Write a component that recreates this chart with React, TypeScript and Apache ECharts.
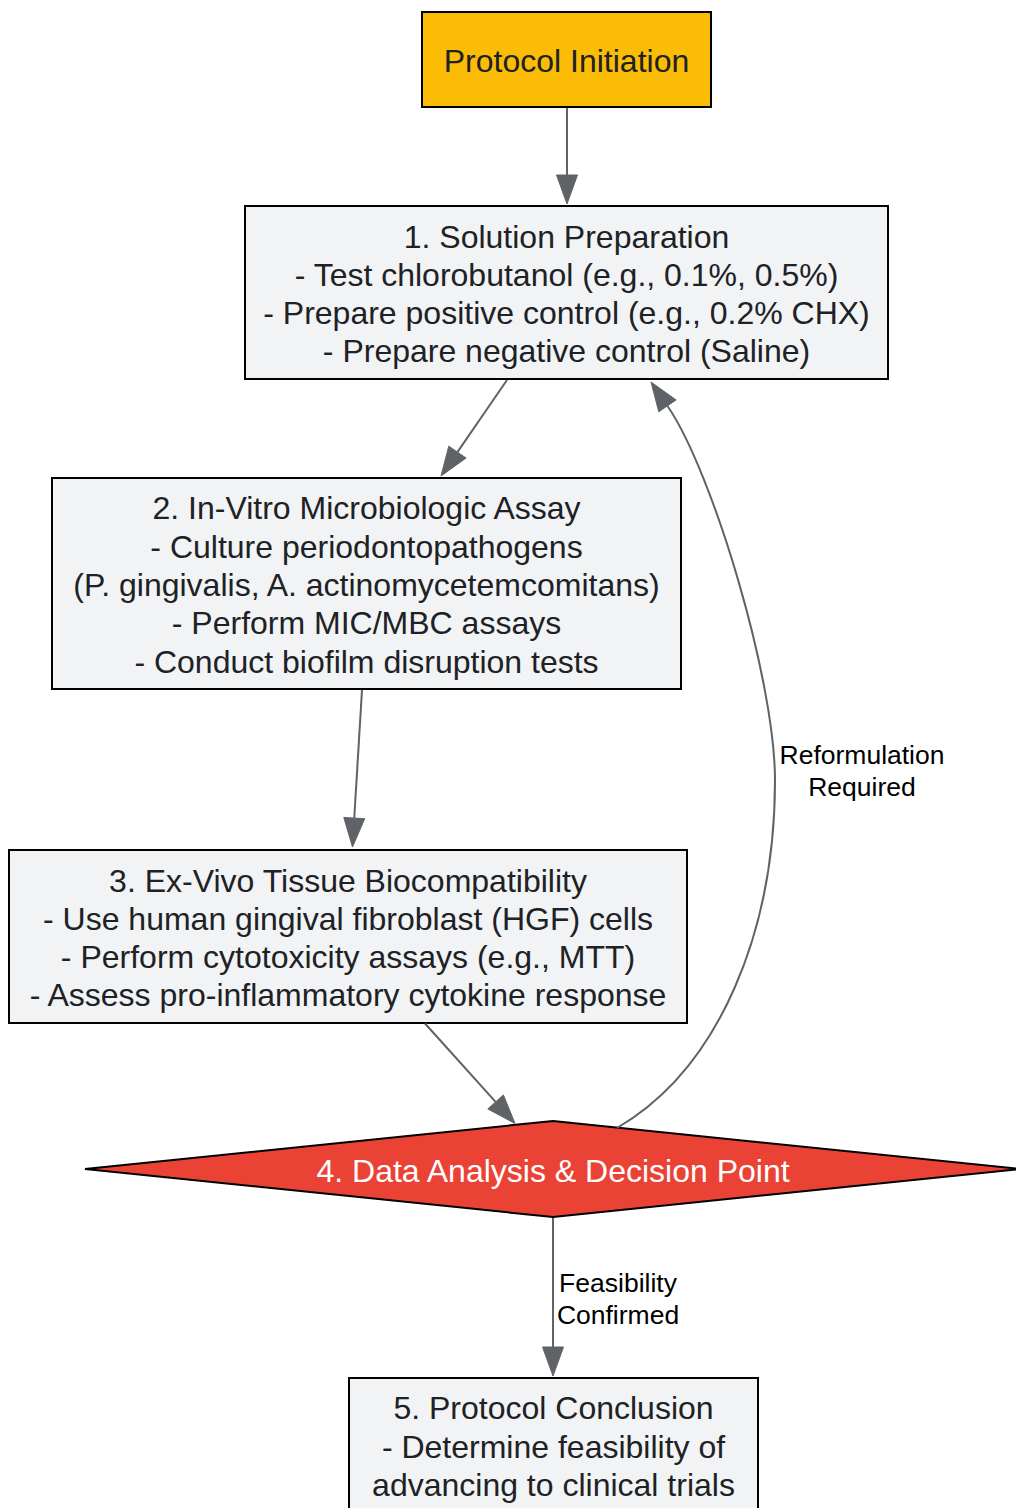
import React, { useEffect, useRef } from "react";
import * as echarts from "echarts";

// ---- data ----
const NODE_LINES: string[][] = [
  ["Protocol Initiation"],
  [
    "1. Solution Preparation",
    "- Test chlorobutanol (e.g., 0.1%, 0.5%)",
    "- Prepare positive control (e.g., 0.2% CHX)",
    "- Prepare negative control (Saline)",
  ],
  [
    "2. In-Vitro Microbiologic Assay",
    "- Culture periodontopathogens",
    "(P. gingivalis, A. actinomycetemcomitans)",
    "- Perform MIC/MBC assays",
    "- Conduct biofilm disruption tests",
  ],
  [
    "3. Ex-Vivo Tissue Biocompatibility",
    "- Use human gingival fibroblast (HGF) cells",
    "- Perform cytotoxicity assays (e.g., MTT)",
    "- Assess pro-inflammatory cytokine response",
  ],
  ["4. Data Analysis & Decision Point"],
  [
    "5. Protocol Conclusion",
    "- Determine feasibility of",
    "advancing to clinical trials",
  ],
];

const EDGE_LIST: [number, number][] = [
  [0, 1],
  [1, 2],
  [2, 3],
  [3, 4],
  [4, 1],
  [4, 5],
];
const EDGE_LABELS: string[][] = [
  [],
  [],
  [],
  [],
  ["Reformulation", "Required"],
  ["Feasibility", "Confirmed"],
];

// ---- layout (positions / sizes / styles) ----
type Box = { shape: "rect" | "diamond"; cx: number; cy: number; w: number; h: number; fill: string; color: string };
const NODE_LAYOUT: Box[] = [
  { shape: "rect", cx: 566.5, cy: 59.5, w: 289, h: 95, fill: "#FBBC05", color: "#202124" },
  { shape: "rect", cx: 566.5, cy: 292.5, w: 643, h: 173, fill: "#F1F3F4", color: "#202124" },
  { shape: "rect", cx: 366.5, cy: 583.5, w: 629, h: 211, fill: "#F1F3F4", color: "#202124" },
  { shape: "rect", cx: 348, cy: 936.5, w: 678, h: 173, fill: "#F1F3F4", color: "#202124" },
  { shape: "diamond", cx: 553, cy: 1169, w: 936, h: 96, fill: "#EA4335", color: "#FFFFFF" },
  { shape: "rect", cx: 553.5, cy: 1445, w: 409, h: 134, fill: "#F1F3F4", color: "#202124" },
];
const TEXT_DY = 1.5;

type Route = { pts?: number[][]; curve?: number[][]; tip?: number[]; label?: number[] };
const EDGE_ROUTES: Route[] = [
  { pts: [[567, 108], [567, 204]] },
  { pts: [[507, 380], [441, 476]] },
  { pts: [[362, 690], [352.5, 847]] },
  { pts: [[425, 1023.5], [515, 1123.5]] },
  {
    curve: [[617, 1128], [720, 1068], [775, 930], [775, 780], [775, 680], [712.6, 471.6], [667.5, 406]],
    tip: [651, 382],
    label: [862, 755],
  },
  { pts: [[553, 1218], [553, 1376]], label: [618, 1283] },
];

const FONT = "'Liberation Sans', Arial, Helvetica, sans-serif";
const NODE_FONT = 32;
const NODE_LH = 38.3;
const EDGE_FONT = 26.5;
const EDGE_LH = 32;
const EDGE_COLOR = "#5F6368";
const ARROW_LEN = 29;
const ARROW_HW = 10.5;

function arrowHead(tip: number[], from: number[]) {
  const dx = tip[0] - from[0];
  const dy = tip[1] - from[1];
  const len = Math.sqrt(dx * dx + dy * dy);
  const ux = dx / len;
  const uy = dy / len;
  const bx = tip[0] - ux * ARROW_LEN;
  const by = tip[1] - uy * ARROW_LEN;
  const nx = -uy;
  const ny = ux;
  return {
    base: [bx, by],
    points: [
      [tip[0], tip[1]],
      [bx + nx * ARROW_HW, by + ny * ARROW_HW],
      [bx - nx * ARROW_HW, by - ny * ARROW_HW],
    ],
  };
}

function buildGraphic() {
  const els: any[] = [];
  // nodes
  NODE_LAYOUT.forEach((b, i) => {
    if (b.shape === "rect") {
      els.push({
        type: "rect",
        shape: { x: b.cx - b.w / 2, y: b.cy - b.h / 2, width: b.w, height: b.h },
        style: { fill: b.fill, stroke: "#000000", lineWidth: 2 },
        z: 1,
      });
    } else {
      els.push({
        type: "polygon",
        shape: {
          points: [
            [b.cx, b.cy - b.h / 2],
            [b.cx + b.w / 2, b.cy],
            [b.cx, b.cy + b.h / 2],
            [b.cx - b.w / 2, b.cy],
          ],
        },
        style: { fill: b.fill, stroke: "#000000", lineWidth: 2 },
        z: 1,
      });
    }
    const lines = NODE_LINES[i];
    lines.forEach((t, k) => {
      els.push({
        type: "text",
        x: b.cx,
        y: b.cy + TEXT_DY + (k - (lines.length - 1) / 2) * NODE_LH,
        style: {
          text: t,
          fill: b.color,
          fontSize: NODE_FONT,
          fontFamily: FONT,
          align: "center",
          verticalAlign: "middle",
        },
        z: 3,
      });
    });
  });

  // edges
  EDGE_LIST.forEach((e, i) => {
    const r = EDGE_ROUTES[i];
    if (r.pts) {
      const [s, t] = r.pts;
      const ah = arrowHead(t, s);
      els.push({
        type: "line",
        shape: { x1: s[0], y1: s[1], x2: ah.base[0], y2: ah.base[1] },
        style: { stroke: EDGE_COLOR, lineWidth: 2 },
        z: 2,
      });
      els.push({ type: "polygon", shape: { points: ah.points }, style: { fill: EDGE_COLOR, stroke: EDGE_COLOR, lineWidth: 1 }, z: 2 });
    } else if (r.curve && r.tip) {
      const c = r.curve;
      for (let k = 0; k + 3 < c.length; k += 3) {
        els.push({
          type: "bezierCurve",
          shape: {
            x1: c[k][0], y1: c[k][1],
            cpx1: c[k + 1][0], cpy1: c[k + 1][1],
            cpx2: c[k + 2][0], cpy2: c[k + 2][1],
            x2: c[k + 3][0], y2: c[k + 3][1],
          },
          style: { stroke: EDGE_COLOR, lineWidth: 2, fill: null },
          z: 2,
        });
      }
      const last = c[c.length - 1];
      const dx = r.tip[0] - last[0];
      const dy = r.tip[1] - last[1];
      const l = Math.sqrt(dx * dx + dy * dy);
      const ah = arrowHead(r.tip, [r.tip[0] - dx / l, r.tip[1] - dy / l]);
      els.push({ type: "polygon", shape: { points: ah.points }, style: { fill: EDGE_COLOR, stroke: EDGE_COLOR, lineWidth: 1 }, z: 2 });
    }
    const lab = EDGE_LABELS[i];
    if (lab.length && r.label) {
      lab.forEach((t, k) => {
        els.push({
          type: "text",
          x: r.label![0],
          y: r.label![1] + k * EDGE_LH,
          style: {
            text: t,
            fill: "#000000",
            fontSize: EDGE_FONT,
            fontFamily: FONT,
            align: "center",
            verticalAlign: "middle",
          },
          z: 3,
        });
      });
    }
  });
  return els;
}

export default function App() {
  const ref = useRef<HTMLDivElement>(null);
  useEffect(() => {
    if (!ref.current) return;
    const chart = echarts.init(ref.current, undefined, { renderer: "svg" });
    chart.setOption({
      animation: false,
      backgroundColor: "#FFFFFF",
      graphic: { elements: buildGraphic() },
    });
    return () => chart.dispose();
  }, []);
  return (
    <div
      ref={ref}
      style={{ position: "absolute", left: 0, top: 0, width: 1016, height: 1508 }}
    />
  );
}
